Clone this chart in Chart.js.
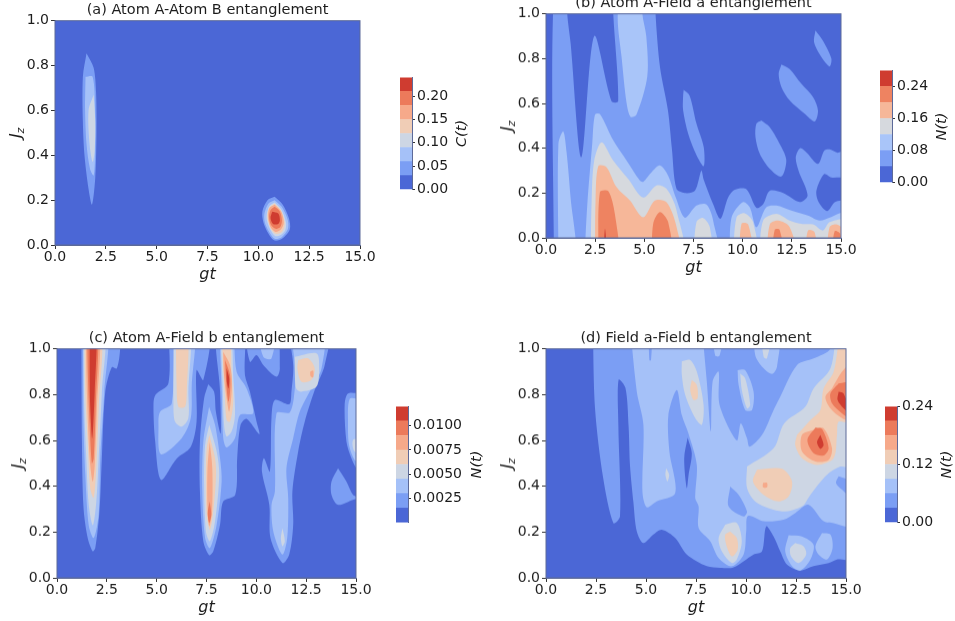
<!DOCTYPE html>
<html>
<head>
<meta charset="utf-8">
<title>Entanglement contours</title>
<script src="https://cdn.jsdelivr.net/npm/chart.js@4"></script>
<style>
  html, body { margin: 0; background: #fff; overflow: hidden; width: 955px; height: 621px; }
  canvas { position: absolute; filter: blur(0.5px); }
</style>
</head>
<body>
<script>
// shades of the contour bands, lowest first
var bandColors = ['#4b67d6', '#7b9ef4', '#a5c1f8', '#cdd6e4', '#f0cdb6', '#f6a98a', '#ec7a5b', '#cf3c30'];
// panel (b) only has seven bands
var bandColorsB = ['#4b67d6', '#7b9ef4', '#a9c5f9', '#d6d9de', '#f6b799', '#ee8361', '#cf3c30'];

var gtTicks = [0, 2.5, 5, 7.5, 10, 12.5, 15];
var jzTicks = [0, 0.2, 0.4, 0.6, 0.8, 1];

var levelsA = [0, 0.03, 0.06, 0.09, 0.12, 0.15, 0.18, 0.21, 0.24];
var levelsB = [0, 0.04, 0.08, 0.12, 0.16, 0.2, 0.24, 0.28];
var levelsC = [0, 0.0015, 0.003, 0.0045, 0.006, 0.0075, 0.009, 0.0105, 0.012];
var levelsD = [0, 0.03, 0.06, 0.09, 0.12, 0.15, 0.18, 0.21, 0.24];

var barTicksA = [0, 0.05, 0.1, 0.15, 0.2];
var barTicksB = [0, 0.08, 0.16, 0.24];
var barTicksC = [0.0025, 0.005, 0.0075, 0.01];
var barTicksD = [0, 0.12, 0.24];

// contour regions: [band index, [[gt, Jz], ...]], painted in order
var background = [0, [[-3, -1], [18, -1], [18, 2], [-3, 2]]];

var regionsA = [
  background,
  [1, [[1.55,.855],[1.9,.79],[2.02,.68],[2.04,.5],[1.98,.3],[1.82,.18],[1.65,.25],[1.45,.4],[1.37,.55],[1.37,.75]]],
  [2, [[1.5,.75],[1.85,.75],[1.97,.6],[1.97,.4],[1.9,.31],[1.72,.34],[1.55,.45],[1.48,.6]]],
  [3, [[1.9,.67],[1.98,.55],[1.95,.42],[1.85,.37],[1.7,.45],[1.65,.6]]],
  [1, [[10.8,.215],[11.2,.18],[11.5,.12],[11.55,.07],[11.2,.03],[10.8,.02],[10.5,.05],[10.25,.1],[10.2,.15],[10.45,.2]]],
  [2, [[10.8,.2],[11.15,.17],[11.45,.11],[11.45,.07],[11.15,.035],[10.8,.028],[10.52,.06],[10.32,.1],[10.3,.14],[10.5,.185]]],
  [3, [[10.8,.19],[11.12,.16],[11.36,.1],[11.32,.065],[11.1,.045],[10.82,.04],[10.58,.07],[10.42,.11],[10.42,.14],[10.55,.175]]],
  [4, [[10.8,.185],[11.1,.155],[11.3,.1],[11.18,.06],[10.85,.05],[10.6,.075],[10.45,.125],[10.52,.165]]],
  [5, [[10.8,.18],[11.12,.15],[11.25,.1],[11.12,.07],[10.85,.058],[10.6,.08],[10.48,.125],[10.55,.165]]],
  [6, [[10.8,.17],[11.05,.15],[11.16,.11],[11.08,.08],[10.85,.072],[10.62,.09],[10.53,.125],[10.6,.155]]],
  [7, [[10.68,.148],[10.98,.14],[11.06,.11],[10.98,.094],[10.72,.094],[10.6,.12]]]
];

var regionsB = [
  background,
  [1, [[.4,-.1],[.4,1.1],[1.08,1.1],[1.08,1],[1.25,.87],[1.8,.36],[2.45,.9],[3.33,.61],[3.67,.61],[3.42,1],[3.42,1.1],[5.57,1.1],[5.57,1],[5.8,.76],[6.2,.57],[6.4,.4],[6.63,.22],[7.06,.2],[7.57,.21],[7.9,.3],[8.02,.26],[8.5,.15],[8.87,.085],[9.26,.18],[9.6,.215],[10.19,.217],[10.7,.134],[11.04,.15],[11.38,.21],[12.06,.2],[12.9,.16],[13.3,.19],[12.84,.3],[12.7,.36],[12.92,.4],[13.26,.38],[13.83,.33],[14.15,.39],[14.43,.395],[14.83,.38],[15.2,.39],[15.2,.27],[14.93,.27],[14.5,.27],[14.15,.285],[13.75,.21],[13.86,.16],[14.3,.12],[14.7,.16],[15.2,.16],[15.2,-.1]]],
  [1, [[7,.66],[7.3,.635],[7.65,.51],[8.02,.405],[8.02,.32],[7.65,.37],[7.23,.465],[6.97,.57],[6.97,.63]]],
  [1, [[10.95,.524],[11.38,.494],[11.97,.405],[12.22,.345],[11.97,.274],[11.38,.308],[10.87,.375],[10.65,.45],[10.7,.51]]],
  [1, [[11.97,.774],[12.39,.754],[12.98,.688],[13.58,.628],[13.83,.568],[13.66,.52],[13.15,.554],[12.39,.613],[11.97,.673],[11.83,.732]]],
  [1, [[13.7,.926],[14.08,.88],[14.51,.8],[14.42,.765],[14,.807],[13.63,.873]]],
  [2, [[4.05,1.1],[3.65,1],[3.85,.8],[4.1,.6],[4.3,.54],[4.6,.55],[5.15,.72],[5.1,.9],[4.9,1],[4.9,1.1]]],
  [2, [[.63,-.1],[.63,.42],[.88,.475],[1.05,.38],[1.25,.18],[1.5,-.1]]],
  [2, [[1.95,-.1],[2.1,.15],[2.35,.42],[2.49,.55],[2.74,.553],[3.42,.435],[4.1,.345],[4.77,.256],[4.94,.25],[5.37,.293],[5.79,.323],[6.21,.278],[6.6,.18],[7.06,.09],[7.65,.144],[8.16,.149],[8.5,.077],[8.63,-.1]]],
  [2, [[9.35,-.1],[9.43,.09],[10.02,.16],[10.36,.137],[10.7,.048],[11.2,.137],[11.71,.144],[12.48,.122],[13.32,.1],[13.92,.077],[14.4,.09],[15.2,.11],[15.2,-.1]]],
  [3, [[2.27,-.1],[2.32,.167],[2.45,.345],[2.83,.427],[3.42,.345],[4.18,.263],[4.94,.18],[5.62,.234],[6.13,.219],[6.64,.122],[6.89,-.1]]],
  [3, [[7.48,-.1],[7.65,.07],[7.99,.089],[8.33,.048],[8.41,-.1]]],
  [3, [[9.51,-.1],[9.68,.09],[10.1,.11],[10.53,.07],[10.73,-.1]]],
  [3, [[10.83,-.1],[11.04,.077],[11.71,.107],[12.39,.077],[12.98,.0625],[13.58,.06],[14.08,.033],[14.42,.07],[15.2,.077],[15.2,-.1]]],
  [4, [[2.49,-.1],[2.52,.167],[2.66,.32],[3.08,.315],[3.59,.226],[4.27,.167],[4.94,.092],[5.54,.167],[6.13,.159],[6.64,.048],[6.75,-.1]]],
  [4, [[9.82,-.1],[9.94,.0625],[10.28,.06],[10.53,-.1]]],
  [4, [[11.2,-.1],[11.38,.06],[11.8,.077],[12.39,.048],[12.73,-.1]]],
  [4, [[13.15,-.1],[13.32,.033],[13.66,.025],[13.75,-.1]]],
  [4, [[14.25,-.1],[14.42,.048],[14.76,.06],[15.2,.03],[15.2,-.1]]],
  [5, [[2.66,-.1],[2.74,.204],[3.17,.208],[3.5,.107],[3.66,-.1]]],
  [5, [[5.37,-.1],[5.45,.0625],[5.79,.115],[6.21,.07],[6.38,-.1]]],
  [5, [[11.46,-.1],[11.63,.036],[11.88,.036],[12.09,-.1]]],
  [5, [[14.5,-.1],[14.68,.03],[14.96,.018],[15.05,-.1]]],
  [6, [[2.95,-.02],[3,.04],[3.05,-.02]]]
];

var regionsC = [
  background,
  // first ridge
  [1, [[1.22,1.1],[3.17,1.1],[3.17,1],[3,.914],[2.75,.92],[2.42,.81],[2.25,.52],[2.13,.29],[1.92,.13],[1.79,.116],[1.54,.174],[1.33,.305],[1.25,.595]]],
  [2, [[1.3,1.1],[2.5,1.1],[2.37,.81],[2.17,.52],[2.09,.276],[1.84,.174],[1.59,.23],[1.42,.45],[1.33,.667]]],
  [3, [[1.33,1.1],[2.37,1.1],[2.25,.81],[2.09,.52],[1.97,.33],[1.8,.23],[1.59,.32],[1.47,.52],[1.37,.74]]],
  [4, [[1.38,1.1],[2.22,1.1],[2.09,.74],[1.97,.48],[1.84,.35],[1.67,.39],[1.54,.595],[1.42,.81]]],
  [5, [[1.43,1.1],[2.12,1.1],[2,.74],[1.89,.49],[1.79,.42],[1.64,.52],[1.5,.81]]],
  [6, [[1.5,1.1],[2.03,1.1],[1.95,.77],[1.84,.52],[1.75,.5],[1.64,.667],[1.55,.885]]],
  [7, [[1.64,1.1],[1.97,1.1],[1.89,.81],[1.77,.61],[1.67,.74],[1.64,.885]]],
  // ridge near gt 6
  [1, [[5.59,1.1],[5.59,.85],[4.95,.8],[4.84,.76],[4.92,.6],[5.22,.428],[6,.52],[6.7,.57],[7,.68],[7,.907],[7.34,.864],[7.59,1.1]]],
  [2, [[5.84,1.1],[6.87,1.1],[6.76,.84],[6.71,.697],[6.26,.61],[5.21,.54],[5.09,.667],[5.17,.725],[5.76,.762]]],
  [3, [[5.87,1.1],[6.67,1.1],[6.59,.813],[6.59,.697],[6.26,.66],[5.92,.682],[5.84,.755]]],
  [4, [[5.96,1.1],[6.54,1.1],[6.51,.813],[6.42,.747],[6.09,.747],[6,.84]]],
  // ridges near gt 7.6 and 8.6
  [1, [[7.59,.845],[7.88,.813],[7.97,.726],[8.21,.631],[8.18,.813],[8.04,1.1],[9.31,1.1],[9.43,.885],[9.68,.813],[10.01,.682],[10.15,.627],[9.51,.694],[9.21,.668],[9.04,.522],[8.94,.363],[8.34,.334],[8.18,.232],[7.84,.116],[7.64,.099],[7.34,.16],[7.17,.377],[7.17,.595],[7.38,.784]]],
  [2, [[7.63,.747],[7.93,.668],[8.18,.522],[8.26,.42],[8.01,.232],[7.67,.13],[7.43,.174],[7.29,.377],[7.34,.595]]],
  [3, [[7.64,.668],[8.01,.552],[8.14,.45],[7.93,.247],[7.67,.16],[7.47,.203],[7.38,.406],[7.43,.58]]],
  [4, [[7.64,.624],[7.93,.522],[7.98,.45],[7.84,.29],[7.67,.21],[7.51,.276],[7.47,.45],[7.51,.566]]],
  [5, [[7.66,.595],[7.79,.479],[7.78,.29],[7.64,.225],[7.55,.305],[7.55,.479]]],
  [6, [[7.66,.334],[7.74,.276],[7.64,.24],[7.56,.283]]],
  [2, [[8.14,1.1],[8.76,1.1],[9.01,.9],[9.51,.827],[9.84,.718],[9.18,.711],[8.93,.61],[8.51,.569],[8.34,.61],[8.26,.813]]],
  [3, [[8.18,1.1],[8.68,1.1],[8.84,.885],[8.93,.711],[8.76,.639],[8.51,.617],[8.38,.668],[8.31,.842]]],
  [4, [[8.26,1.1],[8.64,1.1],[8.76,.885],[8.84,.769],[8.68,.682],[8.51,.689],[8.43,.784],[8.34,.914]]],
  [5, [[8.34,.987],[8.68,.929],[8.78,.842],[8.64,.726],[8.51,.784],[8.38,.885]]],
  [6, [[8.43,.95],[8.68,.885],[8.68,.813],[8.6,.769],[8.51,.827]]],
  [7, [[8.51,.914],[8.64,.871],[8.6,.827],[8.52,.856]]],
  // top cluster near gt 10
  [1, [[9.38,1.1],[9.68,.943],[10.01,.972],[10.35,.929],[11.01,.878],[11.18,.914],[10.93,1.1]]],
  [2, [[10.01,1.1],[10.35,.965],[10.76,.958],[10.93,1.1]]],
  // long ridge from gt 11 up to 13
  [1, [[11.55,1.1],[11.85,.929],[11.76,.813],[11.65,.758],[10.93,.776],[10.76,.697],[10.68,.464],[10.38,.522],[10.28,.464],[10.65,.319],[10.71,.174],[11.31,.065],[11.65,.102],[11.85,.232],[11.81,.377],[12.1,.552],[12.43,.682],[12.93,.82],[13.43,.929],[13.6,1.1]]],
  [2, [[11.68,1.1],[11.93,.929],[11.93,.827],[11.68,.723],[11.01,.718],[10.93,.377],[10.76,.319],[10.85,.203],[11.31,.102],[11.55,.174],[11.6,.348],[11.51,.479],[11.85,.61],[12.18,.726],[12.76,.827],[13.27,.914],[13.35,1.1]]],
  [3, [[11.31,.218],[11.43,.16],[11.31,.138],[11.23,.174]]],
  [3, [[11.93,.965],[13.02,.98],[13.15,.92],[13.02,.835],[12.26,.813],[12,.827],[11.93,.9]]],
  [4, [[12.1,.951],[12.6,.958],[12.93,.914],[12.76,.864],[12.26,.856],[12.06,.914]]],
  [5, [[12.7,.9],[12.85,.905],[12.85,.875],[12.72,.88]]],
  // right edge
  [1, [[14.1,.479],[14.52,.421],[14.85,.363],[15.2,.35],[14.85,.341],[14.1,.319],[13.77,.363],[13.77,.421]]],
  [1, [[15.2,.805],[14.6,.805],[14.43,.755],[14.52,.595],[14.77,.522],[15.02,.479],[15.2,.479]]],
  [2, [[15.2,.781],[14.68,.781],[14.6,.668],[14.65,.58],[14.93,.515],[15.2,.51]]],
  [3, [[15.2,.61],[14.85,.602],[14.88,.559],[15.2,.537]]]
];

var regionsD = [
  background,
  [1, [[2.34,1.1],[2.45,.74],[2.85,.44],[3.37,.239],[3.7,.268],[3.62,.66],[3.63,.865],[3.97,.83],[4.13,.66],[4.2,.49],[4.37,.33],[4.54,.203],[4.87,.152],[5.37,.189],[5.79,.21],[6.46,.174],[7.04,.102],[8.04,.051],[8.71,.044],[9.38,.046],[10.38,.102],[10.8,.116],[11.01,.225],[11.38,.181],[11.71,.116],[12.05,.058],[12.71,.032],[13.38,.051],[14.13,.065],[14.55,.08],[15.2,.085],[15.2,1.1]]],
  [2, [[4.2,1.1],[4.54,.813],[4.87,.668],[4.82,.377],[5.04,.308],[5.54,.334],[6.46,.37],[6.17,.552],[6.12,.711],[6.54,.82],[6.79,.711],[7.12,.631],[7.54,.493],[7.46,.348],[7.63,.312],[7.63,.218],[8.21,.16],[8.63,.087],[9.29,.051],[9.88,.102],[10.01,.203],[10.1,.27],[10.88,.247],[11.88,.254],[12.46,.283],[13.13,.319],[13.88,.247],[14.38,.239],[15.2,.23],[15.2,1.1]]],
  // darker tongues inside the pale region
  [1, [[5.12,1.1],[5.3,1.1],[5.25,.95],[5.17,.95]]],
  [1, [[7.79,1.1],[8.04,.857],[8.24,.639],[8.33,.857],[8.63,.9],[8.68,.755],[9.54,.6],[9.74,.675],[10.05,.61],[10.18,.573],[10.8,.624],[11.38,.733],[11.63,.776],[12.55,.929],[13.38,.958],[14.22,1],[14.25,1.1]]],
  [1, [[9.21,.399],[9.63,.363],[10.05,.29],[9.88,.268],[9.13,.312]]],
  [0, [[7.08,.612],[7.29,.544],[7.13,.45],[7.04,.392],[6.91,.522]]],
  // pale islands along the top
  [2, [[8.29,1.1],[8.88,1.1],[8.68,.97],[8.46,.97]]],
  [2, [[10.38,1.1],[11.63,1.1],[11.55,.922],[11.3,.89],[10.8,.922],[10.46,.972]]],
  [3, [[10.71,1.1],[11.3,1.1],[11.05,.958],[10.88,.965]]],
  [2, [[9.58,.907],[9.96,.907],[10.38,.813],[10.3,.733],[9.96,.733],[9.63,.842]]],
  [3, [[9.71,.893],[9.96,.871],[10.21,.755],[10.05,.74],[9.79,.82]]],
  [3, [[6.79,.945],[7.21,.951],[7.54,.901],[7.88,.755],[7.79,.668],[7.46,.697],[6.96,.798],[6.79,.886]]],
  [4, [[7.29,.864],[7.54,.842],[7.58,.784],[7.38,.776],[7.21,.82]]],
  [3, [[6.01,.479],[6.16,.45],[6.07,.421],[5.97,.45]]],
  // low lobes
  [3, [[8.96,.232],[9.54,.24],[9.79,.16],[9.54,.08],[9.29,.065],[8.79,.116],[8.63,.174]]],
  [4, [[9.21,.203],[9.54,.174],[9.58,.123],[9.29,.094],[9.01,.145],[8.96,.189]]],
  [2, [[12.13,.186],[12.8,.181],[13.38,.145],[13.22,.08],[12.71,.032],[12.3,.051],[11.96,.116]]],
  [3, [[12.46,.152],[12.88,.138],[13.01,.102],[12.63,.065],[12.25,.094],[12.21,.13]]],
  [2, [[13.8,.196],[14.22,.189],[14.33,.13],[14.05,.08],[13.63,.102],[13.47,.138]]],
  // warm region on the right
  [3, [[10.05,.486],[11.38,.566],[11.91,.675],[12.96,.747],[13.38,.827],[14.22,.914],[14.63,1.1],[15.2,1.1],[15.2,.486],[14.72,.486],[14.05,.45],[13.22,.363],[12.8,.312],[11.8,.29],[10.55,.327],[10.05,.392]]],
  [1, [[14.63,.443],[15.2,.421],[15.2,.36],[14.8,.385],[14.5,.414]]],
  [4, [[10.55,.472],[11.8,.476],[12.3,.421],[12.13,.356],[11.63,.334],[10.88,.363],[10.35,.421]]],
  [5, [[10.85,.415],[11.05,.415],[11.05,.395],[10.85,.395]]],
  [4, [[12.55,.624],[13.22,.689],[13.72,.733],[13.88,.827],[14.38,.899],[14.8,1.1],[15.2,1.1],[15.2,.682],[14.63,.682],[14.55,.624],[14.38,.522],[13.55,.493],[12.8,.522],[12.46,.58]]],
  [5, [[14.3,.827],[14.8,.9],[15.2,.93],[15.2,.69],[14.8,.697],[14.22,.74],[13.97,.79]]],
  [5, [[13.38,.646],[13.88,.653],[14.3,.566],[14.13,.515],[13.47,.508],[12.8,.552],[12.8,.624]]],
  [6, [[14.63,.849],[15.2,.85],[15.2,.7],[14.8,.718],[14.3,.762],[14.22,.805]]],
  [6, [[13.47,.656],[13.8,.65],[14.13,.566],[13.88,.534],[13.38,.544],[13.07,.602]]],
  [7, [[14.63,.813],[14.88,.805],[15.2,.72],[14.88,.74],[14.58,.776]]],
  [7, [[13.72,.624],[13.88,.58],[13.72,.563],[13.55,.592]]]
];

var inkColor = '#1c1c1c';
var fontName = '"DejaVu Sans"';

// draws text reading bottom to top, Chart.js would turn the right hand one the other way
function drawUpright(ctx, x, y, parts) {
  ctx.save();
  ctx.translate(x, y);
  ctx.rotate(-Math.PI / 2);
  ctx.fillStyle = inkColor;
  ctx.textBaseline = 'middle';
  ctx.textAlign = 'left';
  var total = 0;
  parts.forEach(function (p) {
    ctx.font = 'italic ' + p.size + 'px ' + fontName;
    total += ctx.measureText(p.text).width;
  });
  var cursor = -total / 2;
  parts.forEach(function (p) {
    ctx.font = 'italic ' + p.size + 'px ' + fontName;
    ctx.fillText(p.text, cursor, p.drop || 0);
    cursor += ctx.measureText(p.text).width;
  });
  ctx.restore();
}

function placeCanvas(left, top, width, height) {
  var c = document.createElement('canvas');
  c.width = width;
  c.height = height;
  c.style.left = left + 'px';
  c.style.top = top + 'px';
  c.style.width = width + 'px';
  c.style.height = height + 'px';
  document.body.appendChild(c);
  return c;
}

function contourPanel(regions, palette, titleText, left, top, right, bottom) {
  var plotW = right - left, plotH = bottom - top;
  var padLeft = 50, padRight = 25, titleH = 18.7, axisH = 39;
  var canvas = placeCanvas(left - padLeft, top - titleH, plotW + padLeft + padRight, plotH + titleH + axisH);

  var datasets = regions.map(function (r) {
    return {
      data: r[1].concat([r[1][0]]).map(function (p) { return { x: p[0], y: p[1] }; }),
      fill: 'shape',
      backgroundColor: palette[r[0]],
      borderWidth: 0,
      pointRadius: 0,
      tension: 0.3,
      capBezierPoints: false
    };
  }).reverse(); // first dataset is painted last

  new Chart(canvas, {
    type: 'line',
    data: { datasets: datasets },
    options: {
      responsive: false,
      animation: false,
      layout: { padding: { right: padRight } },
      plugins: {
        legend: { display: false },
        tooltip: { enabled: false },
        title: {
          display: true,
          fullSize: false,
          text: titleText,
          color: inkColor,
          font: { family: fontName, size: 14.5, weight: 'normal', lineHeight: 1.2 },
          padding: { top: 0, bottom: 1.3 }
        }
      },
      scales: {
        x: {
          type: 'linear', min: 0, max: 15,
          afterBuildTicks: function (s) { s.ticks = gtTicks.map(function (v) { return { value: v }; }); },
          afterFit: function (s) { s.height = axisH; },
          grid: { drawOnChartArea: false, tickLength: 4, color: '#333' },
          border: { color: '#5d6a99' },
          ticks: {
            color: inkColor, padding: 0, maxRotation: 0, autoSkip: false,
            font: { family: fontName, size: 14 },
            callback: function (v) { return Number(v).toFixed(1); }
          },
          title: {
            display: true, text: 'gt', color: inkColor, padding: 0,
            font: { family: fontName, size: 16, style: 'italic', lineHeight: 1.2 }
          }
        },
        y: {
          min: 0, max: 1,
          afterBuildTicks: function (s) { s.ticks = jzTicks.map(function (v) { return { value: v }; }); },
          afterFit: function (s) { s.width = padLeft; },
          grid: { drawOnChartArea: false, tickLength: 4, color: '#333' },
          border: { color: '#5d6a99' },
          ticks: {
            color: inkColor, padding: 2,
            font: { family: fontName, size: 14 },
            callback: function (v) { return Number(v).toFixed(1); }
          }
        }
      }
    },
    plugins: [{
      id: 'jzLabel',
      afterDatasetsDraw: function (chart) {
        var a = chart.chartArea, ctx = chart.ctx;
        ctx.save();
        ctx.strokeStyle = '#5d6a99';
        ctx.lineWidth = 1;
        ctx.strokeRect(a.left, a.top, a.right - a.left, a.bottom - a.top);
        ctx.restore();
      },
      afterDraw: function (chart) {
        var a = chart.chartArea;
        drawUpright(chart.ctx, a.left - 38, (a.top + a.bottom) / 2, [
          { text: 'J', size: 16 },
          { text: 'z', size: 11, drop: 4 }
        ]);
      }
    }]
  });
}

function colorBar(levels, palette, tickValues, digits, label, left, top, right, bottom, labelGap) {
  var barW = right - left, barH = bottom - top;
  var padY = 10, axisW = 90;
  var canvas = placeCanvas(left, top - padY, barW + axisW, barH + padY * 2);

  var datasets = levels.slice(0, -1).map(function (lo, i) {
    return {
      data: [[lo, levels[i + 1]]],
      backgroundColor: palette[i],
      borderWidth: 0,
      barPercentage: 1,
      categoryPercentage: 1,
      grouped: false
    };
  });

  new Chart(canvas, {
    type: 'bar',
    data: { labels: [''], datasets: datasets },
    options: {
      responsive: false,
      animation: false,
      layout: { padding: { top: padY, bottom: padY } },
      plugins: { legend: { display: false }, tooltip: { enabled: false } },
      scales: {
        x: { display: false },
        y: {
          position: 'right',
          min: levels[0], max: levels[levels.length - 1],
          afterBuildTicks: function (s) { s.ticks = tickValues.map(function (v) { return { value: v }; }); },
          afterFit: function (s) { s.width = axisW; },
          grid: { drawOnChartArea: false, tickLength: 3, color: '#333' },
          border: { color: '#5d6a99' },
          ticks: {
            color: inkColor, padding: 2,
            font: { family: fontName, size: 14 },
            callback: function (v) { return Number(v).toFixed(digits); }
          }
        }
      }
    },
    plugins: [{
      id: 'barLabel',
      afterDraw: function (chart) {
        var a = chart.chartArea;
        drawUpright(chart.ctx, a.right + labelGap, (a.top + a.bottom) / 2, [{ text: label, size: 14.5 }]);
      }
    }]
  });
}

contourPanel(regionsA, bandColors, '(a) Atom A-Atom B entanglement', 55, 20.7, 360, 245);
contourPanel(regionsB, bandColorsB, '(b) Atom A-Field a entanglement', 546, 13.3, 841, 237.5);
contourPanel(regionsC, bandColors, '(c) Atom A-Field b entanglement', 57, 349, 356, 578);
contourPanel(regionsD, bandColors, '(d) Field a-Field b entanglement', 546, 349, 846, 578);

colorBar(levelsA, bandColors, barTicksA, 2, 'C(t)', 400, 77, 412, 190, 50);
colorBar(levelsB, bandColorsB, barTicksB, 2, 'N(t)', 880, 69.5, 892, 183, 50);
colorBar(levelsC, bandColors, barTicksC, 4, 'N(t)', 396, 406, 408, 523, 69);
colorBar(levelsD, bandColors, barTicksD, 2, 'N(t)', 885, 406, 897, 523, 50);
</script>
</body>
</html>
